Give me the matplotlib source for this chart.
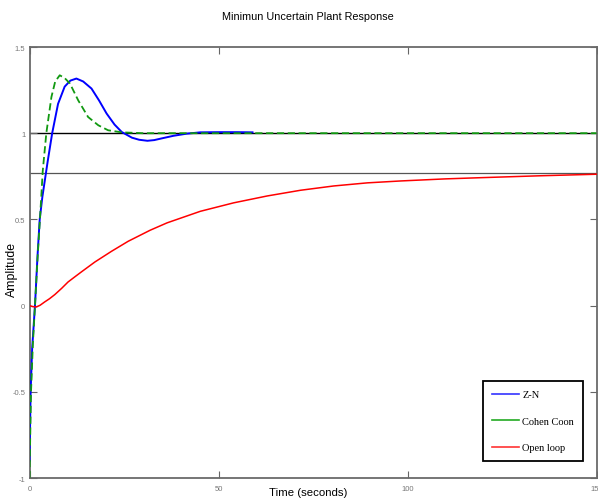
import matplotlib
matplotlib.use("Agg")
import matplotlib.pyplot as plt
from matplotlib.lines import Line2D

# step responses
zn_t = [0, 0.3, 0.7, 1.45, 2.1, 2.7, 3.4, 4.15, 4.8, 6.0, 7.55, 9.3, 10.8, 12.4, 14.2,
        16.4, 18.4, 20.4, 22.5, 24.4, 27.1, 29.0, 31.2, 33.0, 35.0, 38.1, 41.5, 45.2, 50, 55, 59]
zn_y = [-0.9, -0.5, -0.25, 0.0, 0.28, 0.5, 0.63, 0.74, 0.835, 1.0, 1.17, 1.27, 1.305, 1.317, 1.3,
        1.259, 1.19, 1.114, 1.05, 1.007, 0.974, 0.962, 0.956, 0.96, 0.97, 0.985, 0.997, 1.005, 1.006, 1.006, 1.005]

cc_t = [0, 0.4, 0.9, 1.45, 2.2, 2.9, 3.5, 4.45, 5.8, 6.8, 8.0, 9.3, 10.7, 12.9,
        15.5, 18.2, 20.8, 24.4, 30, 150]
cc_y = [-1.0, -0.5, -0.22, 0.0, 0.3, 0.55, 0.78, 1.0, 1.21, 1.3, 1.336, 1.32, 1.288, 1.19,
        1.094, 1.046, 1.017, 1.005, 1.0, 1.0]

ol_t = [0, 0.9, 1.8, 2.8, 4.0, 5.3, 6.7, 8.5, 10.2, 12, 13.7, 17.3, 21.7, 26.1, 31.9, 36.4,
        45.2, 54, 62.9, 71.7, 80.5, 89.4, 98.2, 110, 119.4, 135, 150]
ol_y = [0, -0.006, -0.008, 0.002, 0.021, 0.04, 0.064, 0.1, 0.137, 0.167, 0.195, 0.253, 0.315, 0.373, 0.437, 0.48,
        0.547, 0.596, 0.636, 0.669, 0.694, 0.712, 0.723, 0.735, 0.742, 0.753, 0.762]

setpoint = 1.0
ol_final = 0.77

x_ticks = [0, 50, 100, 150]
y_ticks = [-1, -0.5, 0, 0.5, 1, 1.5]
y_tick_labels = ['-1', '-0.5', '0', '0.5', '1', '1.5']

sans = ['Liberation Sans', 'DejaVu Sans']

fig = plt.figure(figsize=(5.98, 5.02), dpi=100)
ax = fig.add_axes([29.5 / 598, 1 - 479 / 502, 567 / 598, 431 / 502])

ax.axhline(setpoint, color='black', lw=1.0, zorder=1)
ax.axhline(ol_final, color='#555555', lw=0.9, zorder=1)

ax.plot(zn_t, zn_y, color='#0000ff', lw=1.4, zorder=3)
ax.plot(cc_t, cc_y, color='#119911', lw=1.3, ls=(0, (4, 2)), zorder=4)
ax.plot(ol_t, ol_y, color='#ff0000', lw=1.1, zorder=3)

ax.set_xlim(0, 150)
ax.set_ylim(-1, 1.5)
ax.set_xticks(x_ticks)
ax.set_xticklabels([str(v) for v in x_ticks])
ax.set_yticks(y_ticks)
ax.set_yticklabels(y_tick_labels)
ax.tick_params(direction='in', length=5, width=0.8, color='#666666',
               top=True, right=True, labelsize=5.5, labelcolor='#777777')
ax.tick_params(axis='x', pad=5)
ax.tick_params(axis='y', pad=3)
for lab in ax.get_xticklabels() + ax.get_yticklabels():
    lab.set_family(sans)
for sp in ax.spines.values():
    sp.set_color('#6a6a6a')
    sp.set_linewidth(1.3)

fig.text(308 / 598, 1 - 17 / 502, 'Minimun Uncertain Plant Response', ha='center', va='center',
         fontsize=7.8, family=sans)
fig.text(308 / 598, 1 - 493 / 502, 'Time (seconds)', ha='center', va='center',
         fontsize=8.2, family=sans)
fig.text(12 / 598, 1 - 270 / 502, 'Amplitude', ha='center', va='center', rotation=90,
         fontsize=8.8, family=sans)

handles = [
    Line2D([], [], color='#3333ff', lw=1.2, label='Z-N'),
    Line2D([], [], color='#22aa22', lw=1.2, label='Cohen Coon'),
    Line2D([], [], color='#ff3333', lw=1.2, label='Open loop'),
]
leg = ax.legend(handles=handles, loc='lower right', bbox_to_anchor=(553.5 / 567, 17 / 431),
                borderaxespad=0, fancybox=False, framealpha=1, edgecolor='black',
                handlelength=2.6, handletextpad=0.3, labelspacing=1.65, borderpad=0.85,
                prop={'family': ['Liberation Serif', 'DejaVu Serif'], 'size': 7.5})
leg.get_frame().set_linewidth(1.3)

fig.savefig('out.png', dpi=100)
